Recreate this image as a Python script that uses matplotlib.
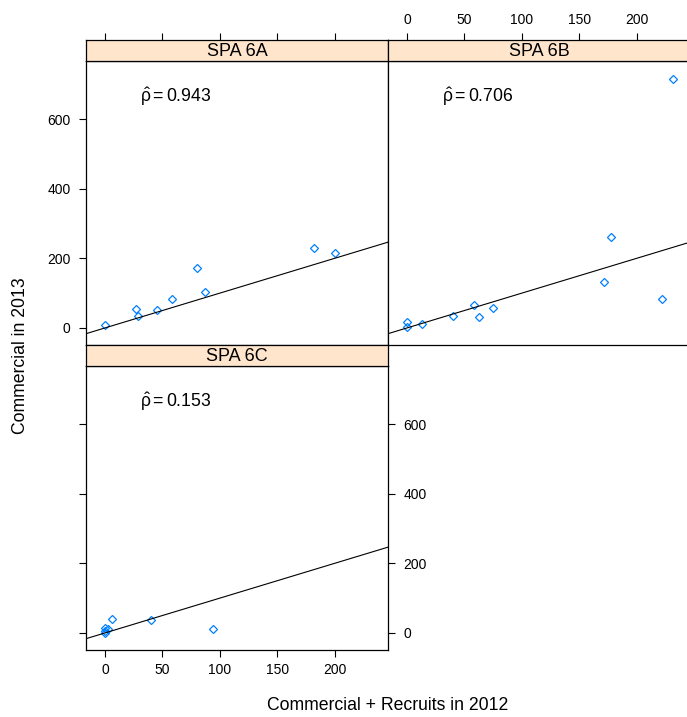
import numpy as np
import matplotlib
matplotlib.use("Agg")
import matplotlib.pyplot as plt

plt.rcParams['font.family'] = ['Liberation Sans', 'DejaVu Sans']
plt.rcParams['mathtext.fontset'] = 'custom'
plt.rcParams['mathtext.rm'] = 'Liberation Sans'
plt.rcParams['mathtext.it'] = 'Liberation Sans'

# data
panels = ["SPA 6A", "SPA 6B", "SPA 6C"]
rho = [0.943, 0.706, 0.153]

x_6a = [0, 27, 29, 45, 58, 80, 87, 182, 200]
y_6a = [9, 54, 34, 51, 84, 173, 103, 231, 216]

x_6b = [0, 0, 13, 40, 58, 63, 75, 172, 178, 222, 232]
y_6b = [16, 2, 12, 35, 67, 32, 58, 132, 260, 83, 716]

x_6c = [0, 0, 0, 3, 6, 40, 94]
y_6c = [0, 13, 6, 10, 41, 38, 11]

xs = [x_6a, x_6b, x_6c]
ys = [y_6a, y_6b, y_6c]

line_intercept = 0
line_slope = 1

xticks = [0, 50, 100, 150, 200]
yticks = [0, 200, 400, 600]

W, H = 687, 717
fig = plt.figure(figsize=(W / 100, H / 100), dpi=100)


def rect(x0, y0, x1, y1):
    return [x0 / W, 1 - y1 / H, (x1 - x0) / W, (y1 - y0) / H]


# pixel boxes of plot areas and strips
boxes = [(86, 61, 388, 345), (388, 61, 690, 345), (86, 366, 388, 650)]
strips = [(86, 40, 388, 61), (388, 40, 690, 61), (86, 345, 388, 366)]

xlim = (-16.5, 246.5)
ylim = (-49, 767)
tick_kw = dict(direction='out', length=5, width=0.8, labelsize=10)

for i in range(3):
    ax = fig.add_axes(rect(*boxes[i]))
    ax.plot(xs[i], ys[i], linestyle='none', marker='D', ms=4.2,
            mfc='none', mec='#0080ff', mew=0.9)
    ax.axline((0, line_intercept), slope=line_slope, color='black', lw=0.8)
    ax.set_xlim(*xlim)
    ax.set_ylim(*ylim)
    ax.set_xticks(xticks)
    ax.set_yticks(yticks)
    ax.tick_params(**tick_kw)
    ax.tick_params(axis='x', pad=4.5)
    ax.tick_params(axis='y', pad=6)
    ax.tick_params(left=False, right=False, bottom=False, top=False,
                   labelleft=False, labelright=False, labelbottom=False, labeltop=False)
    ax.text(0.179, 0.876, r'$\hat{\rho} = %.3f$' % rho[i], transform=ax.transAxes,
            fontsize=12.7, ha='left', va='center')
    for s in ax.spines.values():
        s.set_linewidth(0.9)

    if i == 0:
        ax.tick_params(left=True, labelleft=True)
    if i == 2:
        ax.tick_params(left=True, bottom=True, labelbottom=True,
                       right=True, labelright=True)

    st = fig.add_axes(rect(*strips[i]))
    st.set_facecolor('#ffe5cc')
    st.set_xlim(*xlim)
    st.set_ylim(0, 1)
    st.set_yticks([])
    st.set_xticks(xticks)
    st.tick_params(**tick_kw)
    st.tick_params(axis='x', pad=4.5)
    st.tick_params(bottom=False, labelbottom=False, top=False, labeltop=False)
    if i == 0:
        st.tick_params(top=True)
    if i == 1:
        st.tick_params(top=True, labeltop=True)
    st.text(0.5, 0.46, panels[i], transform=st.transAxes, ha='center',
            va='center', fontsize=13)
    for s in st.spines.values():
        s.set_linewidth(0.9)

fig.text(21 / W, 1 - 356 / H, "Commercial in 2013", rotation=90,
         ha='center', va='center', fontsize=12.7)
fig.text(388 / W, 1 - 706 / H, "Commercial + Recruits in 2012",
         ha='center', va='center', fontsize=12.7)

fig.savefig("out.png", dpi=100)
